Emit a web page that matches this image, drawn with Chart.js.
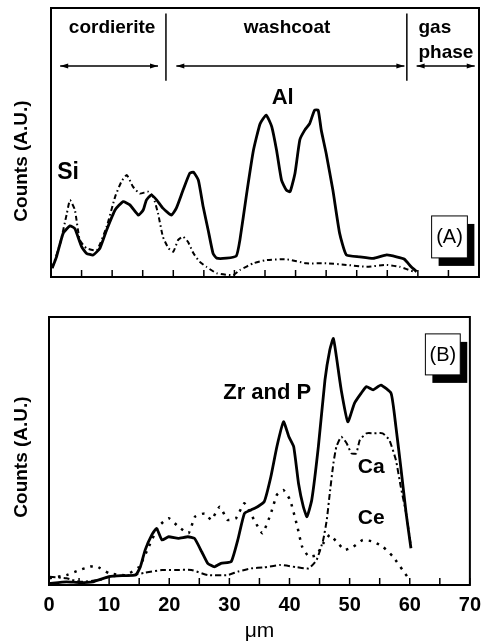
<!DOCTYPE html>
<html>
<head>
<meta charset="utf-8">
<script src="https://cdn.jsdelivr.net/npm/chart.js@4"></script>
<style>
  html, body { margin: 0; padding: 0; background: #fff; overflow: hidden; }
  body { width: 489px; height: 644px; position: relative; }
  #chartA { position: absolute; left: 0; top: 0; }
  #chartB { position: absolute; left: 0; top: 290px; }
</style>
</head>
<body>
<canvas id="chartA" width="489" height="290"></canvas>
<canvas id="chartB" width="489" height="354"></canvas>
<script>
// panel (A): Al (solid) and Si (dash-dot) line scans, position in um
const alPos = [0.2,0.9,2.0,3.1,3.9,5.0,5.8,6.9,8.0,9.1,10.5,11.8,12.9,14.3,15.1,15.6,16.4,17.3,18.3,19.7,20.5,21.6,22.7,23.3,24.1,24.9,25.7,26.5,27.1,28.7,30.3,30.9,32.0,33.1,34.2,35.2,36.1,36.9,37.7,38.5,39.1,39.9,40.7,41.5,42.3,43.1,43.7,44.2,45.0,46.1,47.2,48.3,50.5,52.7,54.9,56.5,57.8,58.9,59.8];
const alCounts = [3.3,7.5,16.3,19,18,11.3,8.8,8.2,10.7,17.5,25,28,26.8,23,25,28.6,30.5,28.6,25.6,23,25.6,32.3,38.6,39,36,26,17.5,8.8,7,7,7.8,13.8,31,47,57,60.2,55.9,47,36,32.3,31.7,38.5,51,54.6,57,62,62,54.6,46,32.3,16.3,8.2,7.5,6.9,8.2,7.5,6.6,3.8,2];
const siPos = [0.2,1.5,2.6,3.1,3.9,4.7,5.8,7.5,9.1,10.5,11.5,12.4,13.4,14.5,15.9,16.7,17.5,18.3,19.2,20.0,20.8,21.6,22.4,23.3,24.3,25.4,27.1,29.8,30.9,33.1,35.2,38.5,41.8,45.0,48.3,51.6,54.9,57.0,59.3];
const siCounts = [3.3,12.5,23.7,28.6,25,13.8,10.7,10,18.7,29.9,35.4,37.9,33.6,31,31.7,29.9,23.7,15,10.7,9.4,13.8,15,13.1,8.8,5.7,3.8,1.4,0.7,2.6,5.1,6.3,6.6,5.1,5.1,4.5,3.8,4.5,3.8,2];

// panel (B): Zr and P (solid), Ca (dash-dot), Ce (dotted)
const zrPos = [0.1,2.9,5.1,7.3,10.0,12.2,14.4,15.2,16.0,17.1,17.9,18.8,19.9,21.5,23.1,24.2,25.4,26.4,27.5,28.6,30.3,31.4,32.5,33.6,34.7,35.8,36.9,37.9,39.0,39.9,40.7,41.5,42.3,42.9,43.7,44.8,45.9,46.7,47.3,47.8,48.6,49.7,50.8,51.9,52.8,53.9,55.2,56.9,57.7,58.5,59.4,60.2];
const zrCounts = [0.6,1.2,0.9,1.2,3.1,3.5,3.7,6.8,13.1,18.7,21.1,16.8,18,17.4,18,17.4,12.4,8.1,6.8,8.1,8.7,16.8,26.7,28,29.2,31.1,40.4,51.6,60.9,55.3,51.6,37.9,29.2,25.5,31.7,51.6,76.5,87.7,92,85.2,72.8,60.9,67.8,71.5,74,72.8,74.6,71.5,59,44.2,26.7,13.7];
const caPos = [0.1,2.9,5.1,8.4,10.0,13.8,16.0,18.8,21.0,23.7,26.4,29.7,31.4,33.6,35.8,38.5,41.3,43.2,44.5,45.6,46.2,46.7,47.3,47.8,48.6,49.5,50.3,51.1,51.7,52.8,54.1,55.5,56.6,57.7,58.5,59.4,60.2];
const caCounts = [3.1,2.5,1.2,1.9,3.1,3.7,4.6,5.6,5.6,5.6,3.7,3.7,5,6.2,6.6,7.5,6.6,6.2,9.3,16.8,24.3,34.2,45.4,51.6,55.3,52.9,49.1,49.1,54.1,56.6,56.6,56.6,54.1,46.6,36.7,26.7,14.3];
const cePos = [0.1,2.9,5.1,6.7,7.8,10.0,12.7,15.0,16.6,18.2,19.9,21.5,23.2,24.3,25.9,27.0,28.4,29.7,31.1,32.5,34.1,35.5,36.9,37.9,39.0,40.1,41.3,42.1,43.2,44.5,45.6,46.7,47.8,49.2,50.6,52.2,53.9,55.5,57.2,58.8,59.6];
const ceCounts = [2.5,3.7,5.6,6.8,7.1,4.4,3.7,6.8,14.3,21.8,24.9,21.8,19.3,25.5,26.7,24.3,29.2,24.3,24.9,30.5,24.3,19.3,26.7,33.6,35.4,31.7,21.8,14.3,10.6,11.2,15.5,18.7,16.2,13.1,14.3,16.8,16.2,14.3,10.6,5.6,3.1];

const xTickLabels = [0, 10, 20, 30, 40, 50, 60, 70];
const tickMarks = [0, 5, 10, 15, 20, 25, 30, 35, 40, 45, 50, 55, 60, 65, 70];

const FONT = '"Liberation Sans", Arial, Helvetica, sans-serif';

function pts(xs, ys) {
  return xs.map((x, i) => ({ x: x, y: ys[i] }));
}

function line(data, dash, width) {
  return {
    data: data,
    borderColor: '#000',
    borderWidth: width,
    borderDash: dash,
    pointRadius: 0,
    tension: 0.15,
    fill: false
  };
}

function arrow(ctx, x0, x1, y) {
  ctx.beginPath();
  ctx.moveTo(x0, y);
  ctx.lineTo(x1, y);
  ctx.stroke();
  [[x0, 1], [x1, -1]].forEach(([x, d]) => {
    ctx.beginPath();
    ctx.moveTo(x, y);
    ctx.lineTo(x + d * 8, y - 2.5);
    ctx.lineTo(x + d * 8, y + 2.5);
    ctx.closePath();
    ctx.fill();
  });
}

const decor = {
  id: 'decor',
  afterDatasetsDraw(chart, args, opts) {
    const ctx = chart.ctx, a = chart.chartArea;
    const px = v => chart.scales.x.getPixelForValue(v);
    const py = v => chart.scales.y.getPixelForValue(v);
    ctx.save();
    ctx.strokeStyle = '#000';
    ctx.fillStyle = '#000';

    // frame + inward ticks
    ctx.lineWidth = 2;
    ctx.strokeRect(a.left, a.top, a.right - a.left, a.bottom - a.top);
    ctx.lineWidth = 1.5;
    tickMarks.forEach(v => {
      ctx.beginPath();
      ctx.moveTo(px(v), a.bottom);
      ctx.lineTo(px(v), a.bottom - 7);
      ctx.stroke();
    });

    // region dividers and arrows
    (opts.dividers || []).forEach(d => {
      ctx.beginPath();
      ctx.moveTo(px(d), py(98));
      ctx.lineTo(px(d), py(73));
      ctx.stroke();
    });
    (opts.arrows || []).forEach(r => arrow(ctx, px(r[0]), px(r[1]), py(78.4)));

    // labels
    ctx.textBaseline = 'middle';
    (opts.labels || []).forEach(l => {
      ctx.font = 'bold ' + l.size + 'px ' + FONT;
      ctx.textAlign = l.align || 'center';
      ctx.fillText(l.text, px(l.x), py(l.y));
    });

    // (A)/(B) tag with shadow
    const t = opts.tag;
    if (t) {
      const x0 = px(t.x0), x1 = px(t.x1), y0 = py(t.y0), y1 = py(t.y1);
      ctx.fillRect(x0 + 7, y0 + 8, x1 - x0, y1 - y0);
      ctx.fillStyle = '#fff';
      ctx.fillRect(x0, y0, x1 - x0, y1 - y0);
      ctx.lineWidth = 1;
      ctx.strokeRect(x0, y0, x1 - x0, y1 - y0);
      ctx.fillStyle = '#000';
      ctx.font = '20px ' + FONT;
      ctx.textAlign = 'center';
      ctx.fillText(t.text, (x0 + x1) / 2, (y0 + y1) / 2 + 1);
    }

    // y axis title
    ctx.save();
    ctx.translate(22, opts.yTitleY);
    ctx.rotate(-Math.PI / 2);
    ctx.font = 'bold 19px ' + FONT;
    ctx.textAlign = 'center';
    ctx.fillText('Counts (A.U.)', 0, 0);
    ctx.restore();

    ctx.restore();
  }
};

Chart.register(decor);

new Chart(document.getElementById('chartA'), {
  type: 'line',
  data: {
    datasets: [
      line(pts(siPos, siCounts), [5, 3, 1.5, 3], 2),
      line(pts(alPos, alCounts), [], 2.8)
    ]
  },
  options: {
    responsive: false,
    animation: false,
    devicePixelRatio: 1,
    layout: { padding: { left: 51, right: 10, top: 8, bottom: 13 } },
    scales: {
      x: { type: 'linear', min: 0, max: 70, display: false },
      y: { min: 0, max: 100, display: false }
    },
    plugins: {
      legend: { display: false },
      tooltip: { enabled: false },
      decor: {
        dividers: [18.8, 58.2],
        arrows: [[1.5, 17.5], [20.5, 57.8], [59.8, 69.3]],
        labels: [
          { text: 'cordierite', x: 10.0, y: 92.6, size: 19 },
          { text: 'washcoat', x: 38.6, y: 92.6, size: 19 },
          { text: 'gas', x: 60.1, y: 92.6, size: 19, align: 'left' },
          { text: 'phase', x: 60.1, y: 83.3, size: 19, align: 'left' },
          { text: 'Al', x: 37.9, y: 66.5, size: 22 },
          { text: 'Si', x: 2.8, y: 38.7, size: 23 }
        ],
        tag: { text: '(A)', x0: 62.25, x1: 68.1, y0: 22.7, y1: 7.1 },
        yTitleY: 161
      }
    }
  }
});

new Chart(document.getElementById('chartB'), {
  type: 'line',
  data: {
    datasets: [
      line(pts(cePos, ceCounts), [2.5, 6], 2.5),
      line(pts(caPos, caCounts), [6, 3, 2, 3], 2),
      line(pts(zrPos, zrCounts), [], 2.8)
    ]
  },
  options: {
    responsive: false,
    animation: false,
    devicePixelRatio: 1,
    layout: { padding: { left: 49, right: 13, top: 27, bottom: 0 } },
    scales: {
      x: {
        type: 'linear', min: 0, max: 70,
        grid: { display: false, drawTicks: false },
        border: { display: false },
        afterBuildTicks: s => { s.ticks = xTickLabels.map(v => ({ value: v })); },
        afterFit: s => { s.height = 59; },
        ticks: {
          color: '#000', padding: 8, maxRotation: 0, autoSkip: false,
          font: { family: FONT, weight: 'bold', size: 20 }
        },
        title: {
          display: true, text: 'μm', color: '#000',
          font: { family: FONT, size: 21 },
          padding: { top: 0, bottom: 0 }
        }
      },
      y: { min: 0, max: 100, display: false }
    },
    plugins: {
      legend: { display: false },
      tooltip: { enabled: false },
      decor: {
        labels: [
          { text: 'Zr and P', x: 36.3, y: 71.6, size: 22 },
          { text: 'Ca', x: 53.6, y: 44.0, size: 21 },
          { text: 'Ce', x: 53.6, y: 25.0, size: 21 }
        ],
        tag: { text: '(B)', x0: 62.6, x1: 68.4, y0: 93.7, y1: 78.4 },
        yTitleY: 167
      }
    }
  }
});
</script>
</body>
</html>
